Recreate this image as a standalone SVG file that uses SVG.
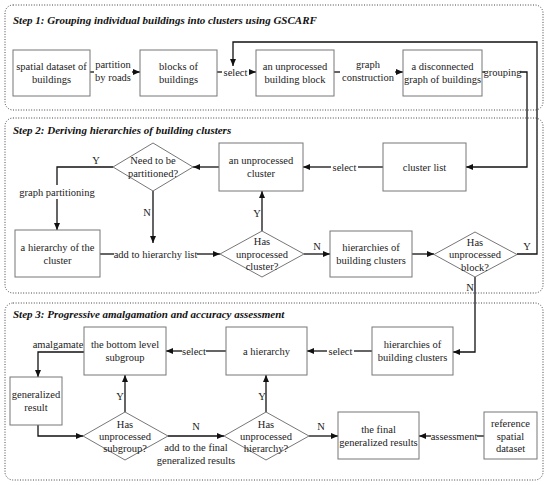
<svg xmlns="http://www.w3.org/2000/svg" width="550" height="485" viewBox="0 0 550 485">
<defs>
<marker id="ah" markerWidth="8" markerHeight="7" refX="7" refY="3" orient="auto" markerUnits="userSpaceOnUse">
<path d="M0,0 L7,3 L0,6 z" fill="#111"/>
</marker>
<style>
text{font-family:"Liberation Serif","Times New Roman",serif;font-size:10.5px;fill:#222;text-anchor:middle}
.title{font-weight:bold;font-style:italic;font-size:11px;text-anchor:start;fill:#111}
.panel{fill:none;stroke:#444;stroke-width:1;stroke-dasharray:1 1.6}
.node rect,.node polygon{fill:#fff;stroke:#777;stroke-width:1}
.conn path{fill:none;stroke:#111;stroke-width:1.3}
.arr{marker-end:url(#ah)}
</style>
</defs>
<rect width="550" height="485" fill="#fff"/>
<g id="panels">
<rect class="panel" x="5" y="5" width="538" height="105" rx="8"/>
<rect class="panel" x="5" y="118" width="538" height="175" rx="8"/>
<rect class="panel" x="5" y="303" width="538" height="177" rx="8"/>
<text class="title" x="13" y="24">Step 1: Grouping individual buildings into clusters using GSCARF</text>
<text class="title" x="13" y="134">Step 2: Deriving hierarchies of building clusters</text>
<text class="title" x="13" y="318">Step 3: Progressive amalgamation and accuracy assessment</text>
</g>
<g id="connectors" class="conn">
<path d="M90,72 H94"/>
<path class="arr" d="M132,72 H140"/>
<path d="M217,72 H222"/>
<path class="arr" d="M249,72 H256"/>
<path d="M334,72 H340"/>
<path class="arr" d="M395,72 H403"/>
<path d="M482,72 H485"/>
<path class="arr" d="M520,72 H527 V167 H466"/>
<path class="arr" d="M517,254 H537 V42 H233 V66"/>
<path d="M383,167 H358"/>
<path class="arr" d="M331,167 H303"/>
<path class="arr" d="M219,167 H193"/>
<path d="M113,167 H57 V185"/>
<path class="arr" d="M57,199 V230"/>
<path class="arr" d="M153,191 V243"/>
<path d="M100,254 H114"/>
<path class="arr" d="M197,254 H220"/>
<path class="arr" d="M262,231 V191"/>
<path class="arr" d="M304,254 H330"/>
<path class="arr" d="M412,254 H434"/>
<path class="arr" d="M475,277 V352 H453"/>
<path d="M372,351 H354"/>
<path class="arr" d="M327,351 H307"/>
<path d="M226,351 H206"/>
<path class="arr" d="M182,351 H166"/>
<path class="arr" d="M84,352 H38 V377"/>
<path class="arr" d="M38,425 V436 H83"/>
<path class="arr" d="M125,412 V375"/>
<path class="arr" d="M168,436 H224"/>
<path class="arr" d="M266,412 V375"/>
<path class="arr" d="M309,436 H338"/>
<path d="M484,436 H477"/>
<path class="arr" d="M431,436 H419"/>
<g id="connector-labels">
<text x="113" y="68">partition</text>
<text x="113" y="81">by roads</text>
<text x="235.5" y="75.5">select</text>
<text x="368" y="68">graph</text>
<text x="368" y="81">construction</text>
<text x="502.5" y="75.5">grouping</text>
<text x="527" y="250">Y</text>
<text x="344.5" y="170.5">select</text>
<text x="96" y="164">Y</text>
<text x="57" y="195.5">graph partitioning</text>
<text x="147" y="215.5">N</text>
<text x="155.5" y="257.5">add to hierarchy list</text>
<text x="257" y="217">Y</text>
<text x="317" y="250">N</text>
<text x="470" y="291">N</text>
<text x="340.5" y="354.5">select</text>
<text x="194" y="354.5">select</text>
<text x="58" y="348">amalgamate</text>
<text x="120" y="399.5">Y</text>
<text x="196" y="430">N</text>
<text x="196" y="451">add to the final</text>
<text x="196" y="464">generalized results</text>
<text x="262" y="399.5">Y</text>
<text x="321" y="430">N</text>
<text x="454" y="439.5">assessment</text>
</g>
</g>
<g id="n1" class="node"><rect x="13" y="50" width="77" height="46"/><text x="51.5" y="70">spatial dataset of</text><text x="51.5" y="83">buildings</text></g>
<g id="n2" class="node"><rect x="140" y="50" width="77" height="46"/><text x="178.5" y="70">blocks of</text><text x="178.5" y="83">buildings</text></g>
<g id="n3" class="node"><rect x="256" y="50" width="78" height="46"/><text x="295" y="70">an unprocessed</text><text x="295" y="83">building block</text></g>
<g id="n4" class="node"><rect x="403" y="50" width="79" height="46"/><text x="442.5" y="70">a disconnected</text><text x="442.5" y="83">graph of buildings</text></g>
<g id="n5" class="node"><polygon points="153,143 193,167 153,191 113,167"/><text x="153" y="164">Need to be</text><text x="153" y="177">partitioned?</text></g>
<g id="n6" class="node"><rect x="219" y="143" width="84" height="48"/><text x="261" y="164">an unprocessed</text><text x="261" y="177">cluster</text></g>
<g id="n7" class="node"><rect x="383" y="143" width="83" height="48"/><text x="424.5" y="170.5">cluster list</text></g>
<g id="n8" class="node"><rect x="15" y="230" width="85" height="47"/><text x="57.5" y="250.5">a hierarchy of the</text><text x="57.5" y="263.5">cluster</text></g>
<g id="n9" class="node"><polygon points="262,231 304,254 262,277 220,254"/><text x="262" y="245">Has</text><text x="262" y="257.5">unprocessed</text><text x="262" y="270">cluster?</text></g>
<g id="n10" class="node"><rect x="330" y="231" width="82" height="46"/><text x="371" y="251">hierarchies of</text><text x="371" y="264">building clusters</text></g>
<g id="n11" class="node"><polygon points="475,232 517,254.5 475,277 434,254.5"/><text x="475" y="245.5">Has</text><text x="475" y="258">unprocessed</text><text x="475" y="270.5">block?</text></g>
<g id="n12" class="node"><rect x="84" y="327" width="82" height="48"/><text x="125" y="348">the bottom level</text><text x="125" y="361">subgroup</text></g>
<g id="n13" class="node"><rect x="226" y="327" width="81" height="48"/><text x="266.5" y="354.5">a hierarchy</text></g>
<g id="n14" class="node"><rect x="372" y="327" width="81" height="48"/><text x="412.5" y="348">hierarchies of</text><text x="412.5" y="361">building clusters</text></g>
<g id="n15" class="node"><rect x="10" y="377" width="52" height="48"/><text x="36" y="398">generalized</text><text x="36" y="411">result</text></g>
<g id="n16" class="node"><polygon points="125,412 168,436 125,460 83,436"/><text x="125" y="427.5">Has</text><text x="125" y="439.5">unprocessed</text><text x="125" y="452">subgroup?</text></g>
<g id="n17" class="node"><polygon points="266,412 309,436 266,460 224,436"/><text x="266" y="427.5">Has</text><text x="266" y="439.5">unprocessed</text><text x="266" y="452">hierarchy?</text></g>
<g id="n18" class="node"><rect x="338" y="412" width="81" height="47"/><text x="378.5" y="432.5">the final</text><text x="378.5" y="445.5">generalized results</text></g>
<g id="n19" class="node"><rect x="484" y="412" width="53" height="47"/><text x="510.5" y="427">reference</text><text x="510.5" y="439.5">spatial</text><text x="510.5" y="452">dataset</text></g>
</svg>
